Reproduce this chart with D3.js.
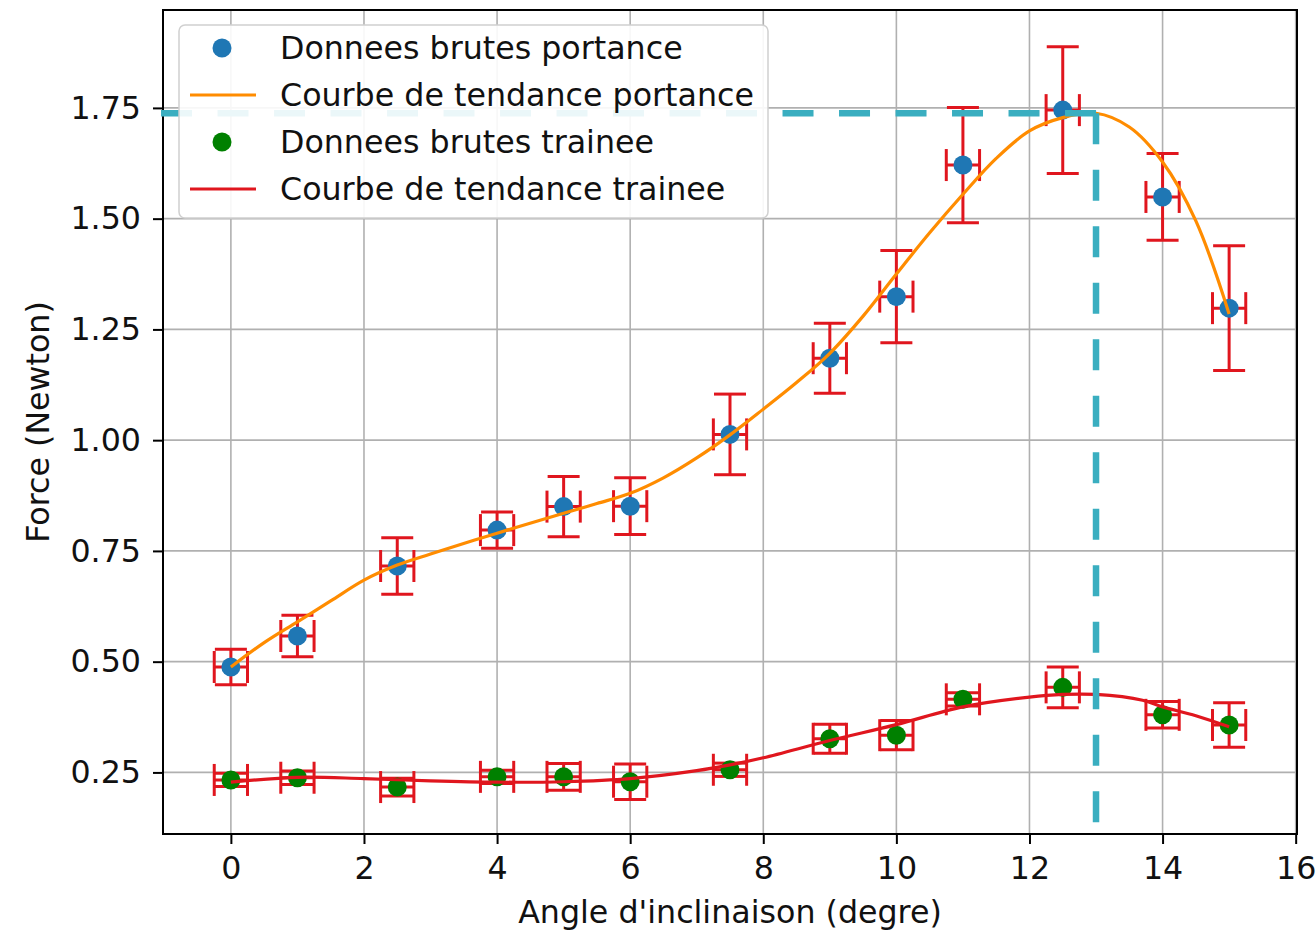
<!DOCTYPE html>
<html>
<head>
<meta charset="utf-8">
<script src="https://cdn.jsdelivr.net/npm/d3@7"></script>
<style>
  body { margin: 0; background: #fff; }
  svg { display: block; font-family: "DejaVu Sans", sans-serif; }
</style>
</head>
<body>
<div id="chart"></div>
<script>
// measured angles (degre)
var angles = [0, 1, 2.5, 4, 5, 6, 7.5, 9, 10, 11, 12.5, 14, 15];
var angleError = 0.25;

// portance (lift) raw data + uncertainty
var liftValues = [0.488, 0.558, 0.716, 0.797, 0.85, 0.851, 1.013, 1.185, 1.324, 1.621, 1.745, 1.549, 1.298];
var liftErrors = [0.04, 0.047, 0.064, 0.041, 0.068, 0.064, 0.091, 0.079, 0.104, 0.13, 0.143, 0.098, 0.141];

// trainee (drag) raw data + uncertainty
var dragValues = [0.233, 0.238, 0.217, 0.24, 0.24, 0.229, 0.256, 0.326, 0.334, 0.415, 0.442, 0.38, 0.357];
var dragErrors = [0.015, 0.015, 0.02, 0.015, 0.03, 0.04, 0.015, 0.033, 0.033, 0.015, 0.046, 0.03, 0.05];

// trend curves
var liftTrendAngles = [0, 0.5, 1, 1.5, 2, 2.5, 3, 4, 5, 5.5, 6, 6.5, 7, 7.5, 8, 8.5, 9, 9.5, 10, 10.5, 11, 11.5, 12, 12.5, 13, 13.5, 14, 14.5, 15];
var liftTrendValues = [0.488, 0.543, 0.59, 0.637, 0.684, 0.718, 0.743, 0.79, 0.835, 0.857, 0.88, 0.915, 0.96, 1.012, 1.07, 1.13, 1.196, 1.28, 1.375, 1.468, 1.555, 1.636, 1.698, 1.728, 1.738, 1.707, 1.628, 1.495, 1.285];
var dragTrendAngles = [0, 1, 2, 3, 4, 5, 6, 7, 7.5, 8, 9, 10, 11, 12, 12.5, 13, 13.7, 14, 14.5, 15];
var dragTrendValues = [0.228, 0.239, 0.236, 0.231, 0.228, 0.229, 0.236, 0.254, 0.267, 0.283, 0.322, 0.358, 0.398, 0.42, 0.426, 0.426, 0.413, 0.398, 0.378, 0.353];

// maximum of the lift trend, marked with dashed guides
var peakAngle = 13;
var peakForce = 1.738;
var guideAngleMin = -1.2;
var guideForceMin = 0.085;

var xTicks = [0, 2, 4, 6, 8, 10, 12, 14, 16];
var yTicks = [0.25, 0.50, 0.75, 1.00, 1.25, 1.50, 1.75];

var legendLabels = ["Donnees brutes portance", "Courbe de tendance portance",
                    "Donnees brutes trainee", "Courbe de tendance trainee"];

var blue = "#1f77b4", green = "#008000", orange = "#ff8c00", red = "#e0161e", cyan = "#3aaec0";
var fontSize = "31.7px";

var W = 1316, H = 933;
var margin = {top: 10, right: 19, bottom: 99, left: 163};
var width = W - margin.left - margin.right;
var height = H - margin.top - margin.bottom;

var svg = d3.select("#chart").append("svg")
    .attr("width", W).attr("height", H);
var g = svg.append("g")
    .attr("transform", "translate(" + margin.left + "," + margin.top + ")");

var x = d3.scaleLinear().domain([-1.02, 16.02]).range([0, width]);
var y = d3.scaleLinear().domain([0.111, 1.971]).range([height, 0]);

// grid
g.append("g").selectAll("line").data(xTicks).enter().append("line")
    .attr("x1", function(d) { return x(d); }).attr("x2", function(d) { return x(d); })
    .attr("y1", 0).attr("y2", height)
    .attr("stroke", "#b0b0b0").attr("stroke-width", 1.6);
g.append("g").selectAll("line").data(yTicks).enter().append("line")
    .attr("y1", function(d) { return y(d); }).attr("y2", function(d) { return y(d); })
    .attr("x1", 0).attr("x2", width)
    .attr("stroke", "#b0b0b0").attr("stroke-width", 1.6);

// axes
var xAxis = g.append("g")
    .attr("transform", "translate(0," + height + ")")
    .call(d3.axisBottom(x).tickValues(xTicks).tickSize(10).tickPadding(12).tickFormat(d3.format("d")));
var yAxis = g.append("g")
    .call(d3.axisLeft(y).tickValues(yTicks).tickSize(10).tickPadding(12).tickFormat(d3.format(".2f")));
[xAxis, yAxis].forEach(function(a) {
  a.select(".domain").remove();
  a.selectAll(".tick line").attr("stroke", "#000").attr("stroke-width", 2);
  a.selectAll(".tick text").attr("fill", "#111").style("font-size", fontSize)
    .style("font-family", "DejaVu Sans, sans-serif");
});

g.append("rect")
    .attr("width", width).attr("height", height)
    .attr("fill", "none").attr("stroke", "#000").attr("stroke-width", 2);

// axis labels
svg.append("text")
    .attr("x", margin.left + width / 2).attr("y", 923)
    .attr("text-anchor", "middle").attr("fill", "#111")
    .style("font-size", fontSize)
    .text("Angle d'inclinaison (degre)");
svg.append("text")
    .attr("transform", "translate(49," + (margin.top + height / 2) + ") rotate(-90)")
    .attr("text-anchor", "middle").attr("fill", "#111")
    .style("font-size", fontSize)
    .text("Force (Newton)");

var plot = g.append("g");

function drawSeries(values, errors, color) {
  var data = angles.map(function(a, i) { return {a: a, v: values[i], e: errors[i]}; });
  var eb = plot.append("g").attr("stroke", red).attr("stroke-width", 3).attr("fill", "none");
  var cap = 16;
  data.forEach(function(d) {
    var cx = x(d.a), cy = y(d.v);
    // vertical error bar
    eb.append("line").attr("x1", cx).attr("x2", cx).attr("y1", y(d.v - d.e)).attr("y2", y(d.v + d.e));
    eb.append("line").attr("x1", cx - cap).attr("x2", cx + cap).attr("y1", y(d.v - d.e)).attr("y2", y(d.v - d.e));
    eb.append("line").attr("x1", cx - cap).attr("x2", cx + cap).attr("y1", y(d.v + d.e)).attr("y2", y(d.v + d.e));
    // horizontal error bar
    var x0 = x(d.a - angleError), x1 = x(d.a + angleError);
    eb.append("line").attr("x1", x0).attr("x2", x1).attr("y1", cy).attr("y2", cy);
    eb.append("line").attr("x1", x0).attr("x2", x0).attr("y1", cy - cap).attr("y2", cy + cap);
    eb.append("line").attr("x1", x1).attr("x2", x1).attr("y1", cy - cap).attr("y2", cy + cap);
  });
  plot.append("g").selectAll("circle").data(data).enter().append("circle")
      .attr("cx", function(d) { return x(d.a); })
      .attr("cy", function(d) { return y(d.v); })
      .attr("r", 9.5).attr("fill", color);
}

function drawTrend(as, vs, color) {
  var line = d3.line()
      .x(function(d) { return x(d[0]); })
      .y(function(d) { return y(d[1]); })
      .curve(d3.curveCatmullRom.alpha(0.5));
  plot.append("path")
      .datum(as.map(function(a, i) { return [a, vs[i]]; }))
      .attr("d", line).attr("fill", "none")
      .attr("stroke", color).attr("stroke-width", 3.2);
}

drawSeries(liftValues, liftErrors, blue);
drawTrend(liftTrendAngles, liftTrendValues, orange);
drawSeries(dragValues, dragErrors, green);
drawTrend(dragTrendAngles, dragTrendValues, red);

// dashed guides to the maximum (not clipped by the axes)
var guides = g.append("g").attr("stroke", cyan).attr("stroke-width", 6.5)
    .attr("stroke-dasharray", "31,25.5").attr("fill", "none");
guides.append("path").attr("d", d3.line()([[x(peakAngle), y(peakForce)], [x(guideAngleMin), y(peakForce)]]));
guides.append("path").attr("d", d3.line()([[x(peakAngle), y(peakForce)], [x(peakAngle), y(guideForceMin)]]));

// legend
var lg = svg.append("g").attr("transform", "translate(179,25)");
lg.append("rect").attr("width", 589).attr("height", 193).attr("rx", 6)
    .attr("fill", "#fff").attr("fill-opacity", 0.9)
    .attr("stroke", "#d0d0d0").attr("stroke-width", 1.5);
var legendKinds = ["dot", "line", "dot", "line"];
var legendColors = [blue, orange, green, red];
legendLabels.forEach(function(label, i) {
  var row = lg.append("g").attr("transform", "translate(0," + (23 + i * 47) + ")");
  if (legendKinds[i] === "dot") {
    row.append("circle").attr("cx", 43).attr("cy", 0).attr("r", 9.5).attr("fill", legendColors[i]);
  } else {
    row.append("line").attr("x1", 11).attr("x2", 77).attr("y1", 0).attr("y2", 0)
        .attr("stroke", legendColors[i]).attr("stroke-width", 3.2);
  }
  row.append("text").attr("x", 101).attr("y", 11).attr("fill", "#111")
      .style("font-size", fontSize).text(label);
});
</script>
</body>
</html>
